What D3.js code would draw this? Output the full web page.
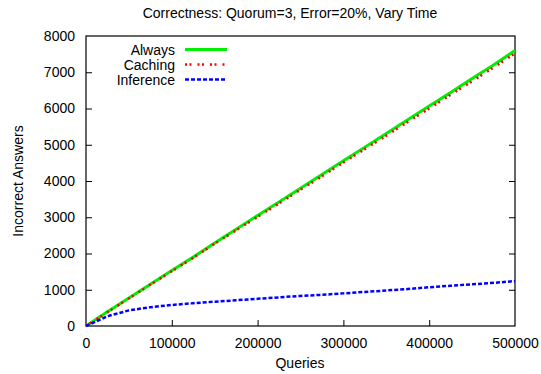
<!DOCTYPE html>
<html>
<head>
<meta charset="utf-8">
<script src="https://cdn.jsdelivr.net/npm/d3@7"></script>
<style>
  body { margin: 0; background: #fff; }
  text { font-family: "Liberation Sans", Arial, sans-serif; fill: #000; }
</style>
</head>
<body>
<div id="chart"></div>
<script>
// values
const queries   = [0, 25000, 50000, 75000, 100000, 125000, 150000, 175000, 200000, 225000, 250000,
                   275000, 300000, 325000, 350000, 375000, 400000, 425000, 450000, 475000, 500000]
const always    = [0, 390, 770, 1150, 1530, 1900, 2290, 2670, 3050, 3420, 3800,
                   4180, 4560, 4930, 5310, 5690, 6070, 6440, 6830, 7200, 7600]
const caching   = [0, 380, 760, 1140, 1510, 1880, 2270, 2640, 3010, 3380, 3760,
                   4130, 4510, 4880, 5250, 5630, 6000, 6380, 6750, 7130, 7520]
const inference = [0, 270, 430, 520, 580, 630, 670, 710, 750, 790, 830,
                   860, 900, 940, 980, 1020, 1070, 1110, 1150, 1190, 1240]
const xTicks = [0, 100000, 200000, 300000, 400000, 500000]
const yTicks = [0, 1000, 2000, 3000, 4000, 5000, 6000, 7000, 8000]

const series = [
  {name: "Always",    values: always,    color: "#00ee00", width: 3,   dash: null},
  {name: "Caching",   values: caching,   color: "#ff0000", width: 2.5, dash: "2,2.5,2,6"},
  {name: "Inference", values: inference, color: "#0000ff", width: 2.5, dash: "4,2"},
]

const width = 541, height = 374
const margin = {top: 36, right: 26, bottom: 48, left: 86}

const svg = d3.select("#chart").append("svg")
    .attr("width", width)
    .attr("height", height)

const x = d3.scaleLinear().domain([0, 500000]).range([margin.left, width - margin.right])
const y = d3.scaleLinear().domain([0, 8000]).range([height - margin.bottom, margin.top])

// title
svg.append("text")
    .attr("x", 290).attr("y", 18)
    .attr("text-anchor", "middle")
    .style("font-size", "14px")
    .text("Correctness: Quorum=3, Error=20%, Vary Time")

// axes, ticks inside; y ticks mirrored on the right
const fmt = d3.format("d")
const xAxis = svg.append("g")
    .attr("transform", `translate(0,${y(0)})`)
    .call(d3.axisBottom(x).tickValues(xTicks).tickFormat(fmt).tickSizeInner(-6).tickSizeOuter(0).tickPadding(12))
const yAxis = svg.append("g")
    .attr("transform", `translate(${x(0)},0)`)
    .call(d3.axisLeft(y).tickValues(yTicks).tickFormat(fmt).tickSizeInner(-6).tickSizeOuter(0).tickPadding(11))
const yAxisR = svg.append("g")
    .attr("transform", `translate(${x(500000)},0)`)
    .call(d3.axisRight(y).tickValues(yTicks).tickSizeInner(-6).tickSizeOuter(0).tickFormat(""))

for (const g of [xAxis, yAxis, yAxisR]) {
  g.select(".domain").remove()
  g.selectAll("line").attr("stroke", "#000")
  g.selectAll("text").style("font-size", "14px").style("font-family", "Liberation Sans, Arial, sans-serif")
}
// drop the end ticks that sit on the frame corners
yAxis.selectAll(".tick").filter(d => d === 0 || d === 8000).select("line").remove()
yAxisR.selectAll(".tick").filter(d => d === 0 || d === 8000).select("line").remove()
xAxis.selectAll(".tick").filter(d => d === 0 || d === 500000).select("line").remove()

// frame
svg.append("rect")
    .attr("x", x(0)).attr("y", y(8000))
    .attr("width", x(500000) - x(0)).attr("height", y(0) - y(8000))
    .attr("fill", "none").attr("stroke", "#000").attr("stroke-width", 1.2)

// axis titles
svg.append("text")
    .attr("x", 300).attr("y", 368)
    .attr("text-anchor", "middle")
    .style("font-size", "14px")
    .text("Queries")
svg.append("text")
    .attr("transform", "translate(23,181) rotate(-90)")
    .attr("text-anchor", "middle")
    .style("font-size", "14px")
    .text("Incorrect Answers")

// lines
const line = d3.line()
    .x((d, i) => x(queries[i]))
    .y(d => y(d))

svg.append("g").selectAll("path")
    .data(series).enter()
    .append("path")
    .attr("d", d => line(d.values))
    .attr("fill", "none")
    .attr("stroke", d => d.color)
    .attr("stroke-width", d => d.width)
    .attr("stroke-dasharray", d => d.dash)

// legend
const legend = svg.append("g").selectAll("g")
    .data(series).enter()
    .append("g")
    .attr("transform", (d, i) => `translate(0,${49.5 + i * 15})`)

legend.append("text")
    .attr("x", 175).attr("y", 5)
    .attr("text-anchor", "end")
    .style("font-size", "14px")
    .text(d => d.name)

legend.append("line")
    .attr("x1", 185).attr("x2", 227)
    .attr("stroke", d => d.color)
    .attr("stroke-width", d => d.width)
    .attr("stroke-dasharray", d => d.dash)
</script>
</body>
</html>
